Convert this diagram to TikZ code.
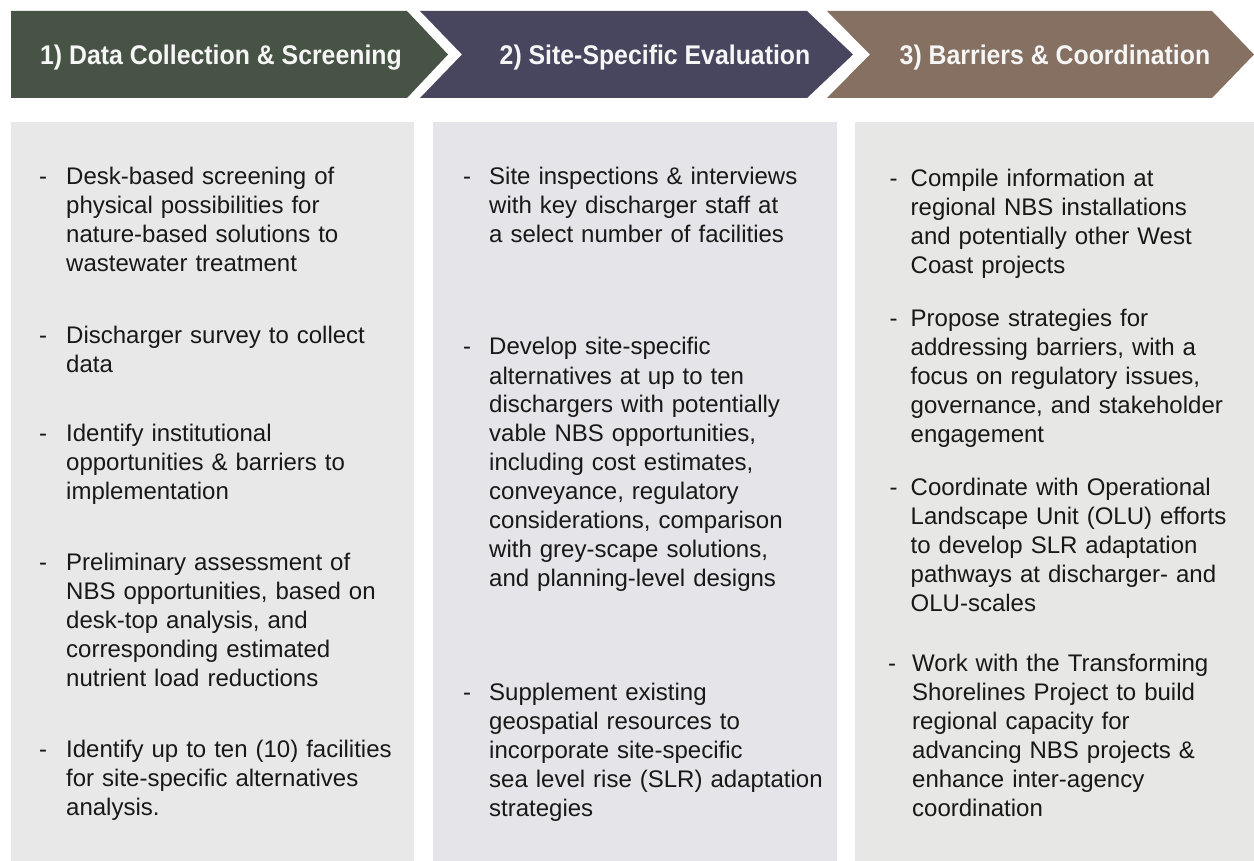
\documentclass[tikz,border=0pt]{standalone}
\usepackage{fontspec}
\setmainfont{Liberation Sans}
\newfontfamily\headfont{Liberation Sans}[FakeStretch=0.92]
\definecolor{hgreen}{RGB}{71,84,69}
\definecolor{hpurple}{RGB}{72,69,94}
\definecolor{hbrown}{RGB}{133,112,98}
\definecolor{panelA}{RGB}{231,232,231}
\definecolor{panelB}{RGB}{228,228,233}
\definecolor{panelC}{RGB}{231,231,230}
\definecolor{bodytext}{RGB}{24,24,24}
\definecolor{headtext}{RGB}{246,246,246}
\newcommand{\bdash}[1]{\llap{-\hspace{#1}}}
\begin{document}
\begin{tikzpicture}[x=1pt,y=-1pt,
  item/.style={anchor=base west, inner sep=0pt, text width=420pt, align=left,
    font=\fontsize{24}{29}\selectfont, text=bodytext},
  head/.style={anchor=base, inner sep=0pt,
    font=\headfont\bfseries\fontsize{27}{30}\selectfont, text=headtext}]
\useasboundingbox (0,0) rectangle (1254,861);
\fill[white] (0,0) rectangle (1254,861);

% header arrows
\fill[hgreen]  (11,11) -- (407,11) -- (448,54.5) -- (407,98) -- (11,98) -- cycle;
\fill[hpurple] (420,11) -- (807,11) -- (853,54.5) -- (807,98) -- (420,98) -- (462,54.5) -- cycle;
\fill[hbrown]  (827,11) -- (1212,11) -- (1254,54.5) -- (1212,98) -- (827,98) -- (870,54.5) -- cycle;

\node[head] (h1) at (221,64.5) {1) Data Collection \& Screening};
\node[head] (h2) at (655,64.5) {2) Site-Specific Evaluation};
\node[head] (h3) at (1055,64.5) {3) Barriers \& Coordination};

% panels
\fill[panelA] (11,122) rectangle (414,861);
\fill[panelB] (433,122) rectangle (837,861);
\fill[panelC] (855,122) rectangle (1254,861);

% column 1
\node[item] (a1) at (66,184.5) {\bdash{19pt}Desk-based screening of\\physical possibilities for\\nature-based solutions to\\wastewater treatment};
\node[item] (a2) at (66,343) {\bdash{19pt}Discharger survey to collect\\data};
\node[item] (a3) at (66,441.7) {\bdash{19pt}Identify institutional\\opportunities \& barriers to\\implementation};
\node[item] (a4) at (66,570.7) {\bdash{19pt}Preliminary assessment of\\NBS opportunities, based on\\desk-top analysis, and\\corresponding estimated\\nutrient load reductions};
\node[item] (a5) at (66,757.7) {\bdash{19pt}Identify up to ten (10) facilities\\for site-specific alternatives\\analysis.};

% column 2
\node[item] (b1) at (489,184.7) {\bdash{18pt}Site inspections \& interviews\\with key discharger staff at\\a select number of facilities};
\node[item] (b2) at (489,355) {\bdash{18pt}Develop site-specific\\alternatives at up to ten\\dischargers with potentially\\vable NBS opportunities,\\including cost estimates,\\conveyance, regulatory\\considerations, comparison\\with grey-scape solutions,\\and planning-level designs};
\node[item] (b3) at (489,700) {\bdash{18pt}Supplement existing\\geospatial resources to\\incorporate site-specific\\sea level rise (SLR) adaptation\\strategies};

% column 3
\node[item] (c1) at (910.5,187) {\bdash{13pt}Compile information at\\regional NBS installations\\and potentially other West\\Coast projects};
\node[item] (c2) at (910.5,326.7) {\bdash{13pt}Propose strategies for\\addressing barriers, with a\\focus on regulatory issues,\\governance, and stakeholder\\engagement};
\node[item] (c3) at (910.5,495) {\bdash{13pt}Coordinate with Operational\\Landscape Unit (OLU) efforts\\to develop SLR adaptation\\pathways at discharger- and\\OLU-scales};
\node[item] (c4) at (912,671.7) {\bdash{16pt}Work with the Transforming\\Shorelines Project to build\\regional capacity for\\advancing NBS projects \&\\enhance inter-agency\\coordination};
\end{tikzpicture}
\end{document}
